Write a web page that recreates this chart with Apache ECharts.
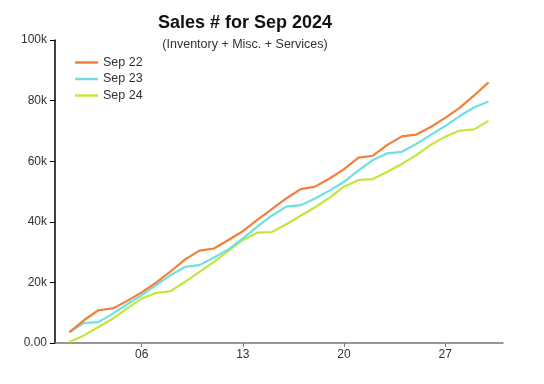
<!DOCTYPE html>
<html>
<head>
<meta charset="utf-8">
<script src="https://cdn.jsdelivr.net/npm/echarts@6/dist/echarts.min.js"></script>
<style>html,body{margin:0;padding:0;background:#fff;}#c{width:544px;height:384px;}</style>
</head>
<body>
<div id="c"></div>
<script>
const days = [1,2,3,4,5,6,7,8,9,10,11,12,13,14,15,16,17,18,19,20,21,22,23,24,25,26,27,28,29,30];
const sep22 = [3600,7500,10800,11400,13900,16700,19900,23600,27600,30500,31200,34000,36900,40600,44200,47700,50800,51600,54300,57400,61200,61800,65400,68200,68800,71300,74300,77600,81700,86000];
const sep23 = [3600,6600,6900,9700,12800,15800,19100,22400,25100,25700,28200,30900,34500,38400,42000,45000,45500,47700,50300,53200,57000,60400,62600,63100,65700,68700,71600,74900,77700,79700];
const sep24 = [300,2500,5300,8000,11400,14700,16500,17100,20200,23500,26800,30400,34000,36400,36600,39200,42000,44800,48000,51600,53800,54100,56500,59100,62000,65400,68100,70100,70500,73300];
const seriesNames = ['Sep 22','Sep 23','Sep 24'];
const xTickDays = [6,13,20,27];
const yTicks = [0,20000,40000,60000,80000,100000];
const titleText = 'Sales # for Sep 2024';
const subtitleText = '(Inventory + Misc. + Services)';

const colors = ['#f47f3b','#6ee0e4','#c3e63d'];
const values = [sep22, sep23, sep24];
const font = 'Liberation Sans, Arial, sans-serif';

const chart = echarts.init(document.getElementById('c'), null, {renderer:'canvas'});
chart.setOption({
  backgroundColor: '#ffffff',
  animation: false,
  title: {
    text: titleText,
    subtext: subtitleText,
    left: 240,
    top: 9,
    textAlign: 'center',
    itemGap: 6,
    textStyle: {fontFamily: font, fontSize: 18, fontWeight: 'bold', color: '#111'},
    subtextStyle: {fontFamily: font, fontSize: 12.5, color: '#333'}
  },
  legend: {
    orient: 'vertical',
    left: 70,
    top: 51,
    icon: 'rect',
    itemWidth: 23,
    itemHeight: 2.5,
    itemGap: 3.5,
    textStyle: {fontFamily: font, fontSize: 12.5, color: '#333'},
    data: seriesNames
  },
  grid: {left: 55, right: 41, top: 40, bottom: 41, containLabel: false},
  xAxis: {
    type: 'value',
    min: 0,
    max: 31,
    axisLine: {show: true, lineStyle: {color: '#777', width: 1.5}},
    axisTick: {show: true, customValues: xTickDays, length: 4, lineStyle: {color: '#777'}},
    axisLabel: {
      customValues: xTickDays,
      fontFamily: font, fontSize: 12, color: '#333', margin: 6,
      formatter: v => String(v).padStart(2,'0')
    },
    splitLine: {show: false}
  },
  yAxis: {
    type: 'value',
    min: 0,
    max: 100000,
    interval: 20000,
    axisLine: {show: true, lineStyle: {color: '#000', width: 1.5}},
    axisTick: {show: true, length: 5, lineStyle: {color: '#000'}},
    axisLabel: {
      fontFamily: font, fontSize: 12, color: '#333', margin: 8,
      formatter: v => v === 0 ? '0.00' : (v/1000) + 'k'
    },
    splitLine: {show: false}
  },
  series: seriesNames.map((n, i) => ({
    name: n,
    type: 'line',
    symbol: 'none',
    color: colors[i],
    lineStyle: {width: 2.2, color: colors[i]},
    data: days.map((d, j) => [d, values[i][j]])
  })).reverse()
});
</script>
</body>
</html>
